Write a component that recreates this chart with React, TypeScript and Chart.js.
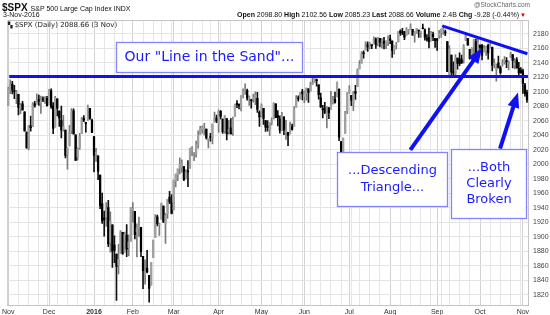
import React, { useEffect, useRef } from 'react';
import { Chart, registerables } from 'chart.js';
Chart.register(...registerables);

// ---- categories (trading days) ----
const monthNames = ['Nov', 'Dec', '2016', 'Feb', 'Mar', 'Apr', 'May', 'Jun', 'Jul', 'Aug', 'Sep', 'Oct', 'Nov'];
const monthYears = [2015, 2015, 2016, 2016, 2016, 2016, 2016, 2016, 2016, 2016, 2016, 2016, 2016];
const monthNums = [10, 11, 0, 1, 2, 3, 4, 5, 6, 7, 8, 9, 10];
const monthDays = [
  [2, 3, 4, 5, 6, 9, 10, 11, 12, 13, 16, 17, 18, 19, 20, 23, 24, 25, 27, 30],
  [1, 2, 3, 4, 7, 8, 9, 10, 11, 14, 15, 16, 17, 18, 21, 22, 23, 24, 28, 29, 30, 31],
  [4, 5, 6, 7, 8, 11, 12, 13, 14, 15, 19, 20, 21, 22, 25, 26, 27, 28, 29],
  [1, 2, 3, 4, 5, 8, 9, 10, 11, 12, 16, 17, 18, 19, 22, 23, 24, 25, 26, 29],
  [1, 2, 3, 4, 7, 8, 9, 10, 11, 14, 15, 16, 17, 18, 21, 22, 23, 24, 28, 29, 30, 31],
  [1, 4, 5, 6, 7, 8, 11, 12, 13, 14, 15, 18, 19, 20, 21, 22, 25, 26, 27, 28, 29],
  [2, 3, 4, 5, 6, 9, 10, 11, 12, 13, 16, 17, 18, 19, 20, 23, 24, 25, 26, 27, 31],
  [1, 2, 3, 6, 7, 8, 9, 10, 13, 14, 15, 16, 17, 20, 21, 22, 23, 24, 27, 28, 29, 30],
  [1, 5, 6, 7, 8, 11, 12, 13, 14, 15, 18, 19, 20, 21, 22, 25, 26, 27, 28, 29],
  [1, 2, 3, 4, 5, 8, 9, 10, 11, 12, 15, 16, 17, 18, 19, 22, 23, 24, 25, 26, 29, 30, 31],
  [1, 2, 6, 7, 8, 9, 12, 13, 14, 15, 16, 19, 20, 21, 22, 23, 26, 27, 28, 29, 30],
  [3, 4, 5, 6, 7, 10, 11, 12, 13, 14, 17, 18, 19, 20, 21, 24, 25, 26, 27, 28, 31],
  [1, 2, 3],
];

// ---- OHLC series ----
const opens = [
  2080.76, 2102.63, 2110.60, 2101.68, 2098.60, 2096.56, 2077.19, 2083.41, 2072.29, 2044.64, 2022.08, 2053.67, 2051.99, 2083.70, 2082.82, 2089.41, 2084.42, 2089.30, 2088.82, 2090.95,
  2082.93, 2101.71, 2080.71, 2051.24, 2090.42, 2073.39, 2061.17, 2047.93, 2047.27, 2013.37, 2025.55, 2046.50, 2073.76, 2040.81, 2010.27, 2023.15, 2042.20, 2063.52, 2057.77, 2060.54, 2077.34, 2060.59,
  2038.20, 2013.78, 2011.71, 1985.32, 1945.97, 1926.12, 1927.83, 1940.34, 1891.68, 1916.68, 1888.66, 1876.18, 1861.46, 1877.40, 1906.28, 1878.79, 1902.52, 1885.22, 1894.00,
  1936.94, 1935.26, 1907.07, 1911.67, 1913.07, 1873.25, 1848.46, 1857.10, 1847.00, 1833.40, 1871.44, 1898.80, 1927.57, 1916.74, 1924.44, 1942.38, 1917.56, 1931.87, 1954.95, 1947.13,
  1937.09, 1976.60, 1985.60, 1994.01, 1996.11, 1996.88, 1981.44, 1990.97, 1994.71, 2019.27, 2015.27, 2014.24, 2026.90, 2041.16, 2047.88, 2048.64, 2048.55, 2032.48, 2037.89, 2035.75, 2058.27, 2063.77,
  2056.62, 2073.19, 2062.50, 2045.56, 2063.01, 2045.54, 2050.23, 2043.72, 2065.92, 2082.89, 2083.10, 2078.83, 2096.05, 2101.52, 2102.09, 2091.49, 2089.37, 2089.84, 2092.33, 2090.93, 2071.82,
  2067.17, 2077.18, 2060.30, 2052.95, 2047.77, 2057.55, 2062.63, 2083.29, 2067.17, 2062.50, 2046.53, 2065.04, 2044.38, 2044.21, 2041.88, 2052.23, 2052.65, 2078.93, 2091.44, 2090.06, 2100.13,
  2093.94, 2097.71, 2104.07, 2100.83, 2110.18, 2112.71, 2115.65, 2109.57, 2091.75, 2076.65, 2077.60, 2066.36, 2078.20, 2075.58, 2085.19, 2089.75, 2092.80, 2103.81, 2031.45, 2006.67, 2042.69, 2073.17,
  2099.34, 2095.05, 2084.43, 2100.42, 2106.97, 2131.72, 2139.50, 2153.81, 2157.88, 2165.13, 2162.04, 2163.79, 2166.10, 2172.91, 2166.47, 2173.71, 2168.97, 2169.81, 2166.05, 2168.83,
  2173.15, 2169.94, 2156.81, 2163.51, 2168.79, 2183.76, 2182.24, 2182.81, 2177.97, 2183.74, 2186.08, 2186.24, 2177.84, 2181.90, 2184.24, 2181.58, 2187.81, 2185.09, 2173.29, 2175.10, 2170.19, 2179.45, 2173.56,
  2171.33, 2177.49, 2181.61, 2185.17, 2182.76, 2169.08, 2120.86, 2150.47, 2127.86, 2125.36, 2146.48, 2143.99, 2145.94, 2144.58, 2170.94, 2173.29, 2158.54, 2146.04, 2161.85, 2168.90, 2156.51,
  2164.33, 2163.37, 2155.15, 2158.22, 2164.19, 2160.39, 2161.35, 2137.67, 2130.26, 2139.68, 2132.95, 2138.31, 2140.81, 2142.51, 2139.43, 2148.50, 2151.16, 2136.97, 2144.06, 2132.23, 2129.78,
  2128.68, 2109.43, 2098.80,
];
const highs = [
  2106.20, 2116.48, 2114.59, 2108.78, 2101.91, 2096.56, 2083.67, 2086.94, 2072.29, 2044.64, 2053.22, 2066.69, 2085.31, 2086.74, 2097.06, 2095.61, 2094.12, 2093.00, 2093.29, 2093.81,
  2103.37, 2104.27, 2085.00, 2093.84, 2090.42, 2073.85, 2080.33, 2067.65, 2047.27, 2022.92, 2053.87, 2076.72, 2076.37, 2040.81, 2022.90, 2042.74, 2064.73, 2067.36, 2057.77, 2081.56, 2077.34, 2062.54,
  2038.20, 2021.94, 2011.71, 1985.32, 1960.40, 1935.65, 1947.38, 1950.33, 1934.47, 1916.68, 1901.44, 1876.18, 1889.85, 1908.85, 1906.28, 1906.73, 1916.99, 1902.96, 1940.24,
  1947.20, 1935.26, 1918.01, 1927.35, 1913.07, 1873.25, 1868.25, 1881.60, 1847.00, 1864.78, 1895.77, 1930.68, 1930.00, 1918.78, 1946.70, 1942.38, 1932.08, 1951.83, 1962.96, 1958.27,
  1978.35, 1986.51, 1993.69, 2009.13, 2006.12, 1996.88, 1992.69, 2005.08, 2022.37, 2024.57, 2015.94, 2032.02, 2046.24, 2052.36, 2053.13, 2056.60, 2048.55, 2036.04, 2042.67, 2055.91, 2072.21, 2067.92,
  2075.07, 2074.02, 2062.50, 2067.33, 2063.01, 2060.63, 2062.93, 2065.05, 2083.18, 2087.84, 2083.22, 2094.66, 2104.05, 2111.05, 2103.78, 2094.32, 2089.37, 2096.87, 2099.89, 2099.30, 2073.85,
  2083.42, 2077.18, 2060.30, 2060.23, 2057.72, 2064.15, 2084.87, 2083.29, 2073.99, 2066.79, 2071.88, 2065.69, 2060.61, 2044.21, 2058.35, 2055.58, 2079.67, 2094.73, 2094.30, 2099.06, 2103.48,
  2100.97, 2105.26, 2104.07, 2113.36, 2119.22, 2120.55, 2117.64, 2109.57, 2098.12, 2081.30, 2085.65, 2079.62, 2078.20, 2100.66, 2093.66, 2099.71, 2113.32, 2103.81, 2031.45, 2036.09, 2073.13, 2098.94,
  2108.71, 2095.05, 2100.72, 2109.08, 2131.71, 2143.16, 2155.40, 2156.45, 2168.99, 2169.05, 2168.35, 2164.63, 2175.63, 2174.56, 2175.11, 2173.71, 2173.54, 2174.98, 2170.22, 2177.09,
  2178.29, 2170.20, 2163.79, 2168.19, 2182.87, 2185.44, 2187.66, 2183.41, 2188.45, 2186.28, 2193.81, 2186.24, 2183.08, 2187.03, 2185.00, 2183.35, 2193.42, 2186.66, 2179.00, 2187.94, 2183.48, 2182.27, 2173.79,
  2173.56, 2184.87, 2186.57, 2187.87, 2184.94, 2169.08, 2163.30, 2150.47, 2141.33, 2151.31, 2146.48, 2153.61, 2150.80, 2165.11, 2179.99, 2173.75, 2158.54, 2161.13, 2172.40, 2172.67, 2175.30,
  2164.41, 2165.46, 2163.95, 2162.93, 2165.86, 2169.60, 2161.56, 2145.36, 2138.19, 2149.19, 2135.61, 2144.38, 2148.44, 2147.18, 2142.63, 2154.79, 2151.16, 2145.73, 2147.13, 2140.72, 2133.25,
  2131.45, 2111.76, 2102.56,
];
const lows = [
  2080.76, 2097.51, 2096.98, 2090.41, 2083.74, 2068.24, 2069.91, 2074.85, 2045.66, 2022.02, 2019.94, 2045.90, 2051.99, 2078.76, 2082.82, 2081.39, 2070.29, 2086.30, 2084.13, 2080.41,
  2082.93, 2077.11, 2042.35, 2051.24, 2066.78, 2052.32, 2036.53, 2045.67, 2008.80, 1993.26, 2025.55, 2042.43, 2041.66, 2005.33, 2005.93, 2020.49, 2042.20, 2058.73, 2044.20, 2060.54, 2061.97, 2043.62,
  1989.68, 2004.17, 1979.05, 1938.83, 1918.46, 1901.10, 1914.35, 1886.41, 1878.93, 1857.83, 1864.60, 1812.29, 1848.98, 1877.40, 1875.97, 1878.79, 1872.70, 1873.65, 1894.00,
  1920.30, 1897.29, 1872.23, 1900.52, 1872.65, 1828.46, 1834.94, 1850.32, 1810.10, 1833.40, 1871.44, 1898.80, 1915.09, 1902.17, 1924.44, 1919.44, 1891.00, 1925.41, 1945.78, 1931.81,
  1937.09, 1968.80, 1977.37, 1986.77, 1989.38, 1977.43, 1979.84, 1969.25, 1994.71, 2012.05, 2005.23, 2010.04, 2022.16, 2041.16, 2043.14, 2040.57, 2034.86, 2022.49, 2031.96, 2028.31, 2058.27, 2057.46,
  2043.98, 2062.57, 2042.56, 2043.09, 2033.80, 2041.69, 2041.88, 2039.74, 2065.92, 2078.13, 2076.31, 2073.65, 2091.68, 2096.32, 2088.52, 2081.20, 2077.52, 2085.80, 2082.31, 2071.62, 2052.28,
  2066.11, 2054.89, 2045.55, 2045.77, 2039.45, 2054.31, 2062.63, 2064.46, 2053.13, 2043.13, 2046.53, 2040.82, 2034.49, 2025.91, 2041.88, 2047.26, 2052.65, 2078.93, 2087.08, 2090.06, 2088.66,
  2085.10, 2088.59, 2085.36, 2100.83, 2110.18, 2112.71, 2107.73, 2089.96, 2078.46, 2064.10, 2069.80, 2050.37, 2062.84, 2075.58, 2083.02, 2084.36, 2092.80, 2032.57, 1991.68, 2006.67, 2042.69, 2070.00,
  2097.90, 2080.86, 2074.02, 2089.39, 2106.97, 2131.72, 2139.50, 2146.21, 2157.88, 2155.79, 2159.07, 2159.40, 2166.10, 2159.75, 2163.24, 2161.95, 2160.18, 2159.07, 2159.58, 2163.49,
  2166.21, 2147.58, 2152.02, 2159.07, 2168.79, 2177.85, 2178.61, 2172.00, 2177.97, 2179.42, 2186.08, 2178.14, 2168.50, 2180.46, 2175.13, 2175.00, 2186.80, 2171.25, 2169.74, 2160.39, 2170.19, 2170.41, 2161.35,
  2157.09, 2173.59, 2175.10, 2179.07, 2177.49, 2127.81, 2119.12, 2120.27, 2119.90, 2122.36, 2131.20, 2135.91, 2139.17, 2139.57, 2170.94, 2163.97, 2145.04, 2141.55, 2151.79, 2145.20, 2156.51,
  2154.77, 2144.01, 2155.15, 2150.28, 2144.85, 2160.39, 2128.84, 2132.77, 2114.72, 2132.98, 2124.43, 2135.49, 2138.15, 2133.44, 2130.09, 2146.91, 2132.94, 2131.59, 2132.52, 2119.36, 2125.53,
  2097.85, 2094.00, 2085.23,
];
const closes = [
  2104.05, 2109.79, 2102.31, 2099.93, 2099.20, 2078.58, 2081.72, 2075.00, 2045.97, 2023.04, 2053.19, 2050.44, 2083.58, 2081.24, 2089.17, 2086.59, 2089.14, 2088.87, 2090.11, 2080.41,
  2102.63, 2079.51, 2049.62, 2091.69, 2077.07, 2063.59, 2047.62, 2052.23, 2012.37, 2021.94, 2043.41, 2073.07, 2041.89, 2005.55, 2021.15, 2038.97, 2064.29, 2060.99, 2056.50, 2078.36, 2063.36, 2043.94,
  2012.66, 2016.71, 1990.26, 1943.09, 1922.03, 1923.67, 1938.68, 1890.28, 1921.84, 1880.33, 1881.33, 1859.33, 1868.99, 1906.90, 1877.08, 1903.63, 1882.95, 1893.36, 1940.24,
  1939.38, 1903.03, 1912.53, 1915.45, 1880.05, 1853.44, 1852.21, 1851.86, 1829.08, 1864.78, 1895.58, 1926.82, 1917.83, 1917.78, 1945.50, 1921.27, 1929.80, 1951.70, 1948.05, 1932.23,
  1978.35, 1986.45, 1993.40, 1999.99, 2001.76, 1979.26, 1989.26, 1989.57, 2022.19, 2019.64, 2015.93, 2027.22, 2040.59, 2049.58, 2051.60, 2049.80, 2036.71, 2035.94, 2037.05, 2055.01, 2063.95, 2059.74,
  2072.78, 2066.13, 2045.17, 2066.66, 2041.91, 2047.60, 2041.99, 2061.72, 2082.42, 2082.78, 2080.73, 2094.34, 2100.80, 2102.40, 2091.48, 2091.58, 2087.79, 2091.70, 2095.15, 2075.81, 2065.30,
  2081.43, 2063.37, 2051.12, 2050.63, 2057.14, 2058.69, 2084.39, 2064.46, 2064.11, 2046.61, 2066.66, 2047.21, 2047.63, 2040.04, 2052.32, 2048.04, 2076.06, 2090.54, 2090.10, 2099.06, 2096.95,
  2099.33, 2105.26, 2099.13, 2109.41, 2112.13, 2119.12, 2115.48, 2096.07, 2079.06, 2075.32, 2071.50, 2077.99, 2071.22, 2083.25, 2088.90, 2085.45, 2113.32, 2037.41, 2000.54, 2036.09, 2070.77, 2098.86,
  2102.95, 2088.55, 2099.73, 2097.90, 2129.90, 2137.16, 2152.14, 2152.43, 2163.75, 2161.74, 2166.89, 2163.78, 2173.02, 2165.17, 2175.03, 2168.48, 2169.18, 2166.58, 2170.06, 2173.60,
  2170.84, 2157.03, 2163.79, 2164.25, 2182.87, 2180.89, 2181.74, 2175.49, 2185.79, 2184.05, 2190.15, 2178.15, 2182.22, 2187.02, 2183.87, 2182.64, 2186.90, 2175.44, 2172.47, 2169.04, 2180.38, 2176.12, 2170.95,
  2170.86, 2179.98, 2186.48, 2186.16, 2181.30, 2127.81, 2159.04, 2127.02, 2125.77, 2147.26, 2139.16, 2139.12, 2139.76, 2163.12, 2177.18, 2164.69, 2146.10, 2159.93, 2171.37, 2151.13, 2168.27,
  2161.20, 2150.49, 2159.73, 2160.77, 2153.74, 2163.66, 2136.73, 2139.18, 2132.55, 2132.98, 2126.50, 2139.60, 2144.29, 2141.34, 2141.16, 2151.33, 2143.16, 2139.43, 2133.04, 2126.41, 2126.15,
  2111.72, 2097.94, 2088.66,
];

// ---- y axis ----
const yMin = 1805;
const yMax = 2199;
const yStep = 20;

// ---- annotations (x = bar index, y = price) ----
const sandLevel = 2121;
const trendLine = [[212.5, 2191], [254.2, 2152.5]];
const arrows = [
  [[196.9, 2020], [232.0, 2160]],
  [[240.8, 2021.7], [249.6, 2099]],
];
const boxes = [
  { x0: 52.7, x1: 143.6, y0: 2169.0, y1: 2127.7, lines: ['Our "Line in the Sand"...'], size: 14, lh: 17 },
  { x0: 161.2, x1: 214.9, y0: 2017.6, y1: 1941.9, lines: ['...Descending', 'Triangle...'], size: 13, lh: 17 },
  { x0: 216.9, x1: 253.5, y0: 2021.7, y1: 1926.7, lines: ['...Both', 'Clearly', 'Broken'], size: 13, lh: 16 },
];

const BLUE = '#1010f5';
const TEXT_BLUE = '#1a1aff';
const BOX_BORDER = '#8484ff';

export default function App() {
  const canvasRef = useRef<HTMLCanvasElement | null>(null);

  useEffect(() => {
    const labels: string[] = [];
    const tickLabels: string[] = [];
    const monthStart: boolean[] = [];
    const weekStart: boolean[] = [];
    let prevDow = 99;
    monthDays.forEach((days, m) => {
      days.forEach((d, k) => {
        const dow = new Date(monthYears[m], monthNums[m], d).getDay();
        labels.push(`${d}-${monthNames[m]}`);
        tickLabels.push(k === 0 ? monthNames[m] : '');
        monthStart.push(k === 0);
        weekStart.push(dow <= prevDow);
        prevDow = dow;
      });
    });

    const up = opens.map((o, i) => closes[i] >= o);

    const framePlugin = {
      id: 'frame',
      beforeDatasetsDraw(chart: any) {
        const { ctx, chartArea } = chart;
        ctx.save();
        ctx.strokeStyle = '#c4c4c4';
        ctx.lineWidth = 1;
        ctx.beginPath();
        ctx.moveTo(chartArea.left + 0.5, chartArea.bottom);
        ctx.lineTo(chartArea.left + 0.5, chartArea.top + 0.5);
        ctx.lineTo(chartArea.right, chartArea.top + 0.5);
        ctx.stroke();
        ctx.restore();
      },
    };

    const annotationPlugin = {
      id: 'annotations',
      afterDatasetsDraw(chart: any) {
        const { ctx, chartArea } = chart;
        const xs = chart.scales.x;
        const ys = chart.scales.y;
        const px = (i: number) => xs.getPixelForValue(i);
        const py = (v: number) => ys.getPixelForValue(v);
        ctx.save();
        ctx.lineCap = 'butt';
        ctx.strokeStyle = BLUE;
        ctx.lineWidth = 3;
        ctx.beginPath();
        ctx.moveTo(chartArea.left + 2, py(sandLevel));
        ctx.lineTo(chartArea.right, py(sandLevel));
        ctx.stroke();
        ctx.beginPath();
        ctx.moveTo(px(trendLine[0][0]), py(trendLine[0][1]));
        ctx.lineTo(px(trendLine[1][0]), py(trendLine[1][1]));
        ctx.stroke();
        arrows.forEach(([tail, tip]) => {
          const x0 = px(tail[0]);
          const y0 = py(tail[1]);
          const x1 = px(tip[0]);
          const y1 = py(tip[1]);
          const dx = x1 - x0;
          const dy = y1 - y0;
          const len = Math.hypot(dx, dy);
          const ux = dx / len;
          const uy = dy / len;
          const head = 15;
          const half = 6;
          ctx.strokeStyle = BLUE;
          ctx.lineWidth = 4;
          ctx.beginPath();
          ctx.moveTo(x0, y0);
          ctx.lineTo(x1 - ux * head * 0.8, y1 - uy * head * 0.8);
          ctx.stroke();
          ctx.fillStyle = BLUE;
          ctx.beginPath();
          ctx.moveTo(x1, y1);
          ctx.lineTo(x1 - ux * head - uy * half, y1 - uy * head + ux * half);
          ctx.lineTo(x1 - ux * head + uy * half, y1 - uy * head - ux * half);
          ctx.closePath();
          ctx.fill();
        });
        boxes.forEach((b) => {
          const l = Math.round(px(b.x0)) + 0.5;
          const r = Math.round(px(b.x1)) + 0.5;
          const t = Math.round(py(b.y0)) + 0.5;
          const btm = Math.round(py(b.y1)) + 0.5;
          ctx.fillStyle = '#ffffff';
          ctx.fillRect(l, t, r - l, btm - t);
          ctx.strokeStyle = BOX_BORDER;
          ctx.lineWidth = 1.3;
          ctx.strokeRect(l, t, r - l, btm - t);
          ctx.fillStyle = TEXT_BLUE;
          ctx.font = `${b.size}px "DejaVu Sans", Verdana, sans-serif`;
          ctx.textAlign = 'center';
          ctx.textBaseline = 'middle';
          const cx = (l + r) / 2;
          const cy = (t + btm) / 2;
          const n = b.lines.length;
          b.lines.forEach((line, i) => {
            ctx.fillText(line, cx, cy + (i - (n - 1) / 2) * b.lh);
          });
        });
        ctx.restore();
      },
    };

    const chart = new Chart(canvasRef.current as HTMLCanvasElement, {
      type: 'bar',
      data: {
        labels,
        datasets: [
          {
            label: 'wick',
            data: lows.map((l, i) => [l, highs[i]]) as any,
            backgroundColor: up.map((u) => (u ? '#7a7a7a' : '#111111')),
            barThickness: 1,
            grouped: false,
            order: 2,
          } as any,
          {
            label: 'body',
            data: opens.map((o, i) => [o, closes[i]]) as any,
            backgroundColor: up.map((u) => (u ? '#a0a0a0' : '#000000')),
            barThickness: 1.6,
            grouped: false,
            minBarLength: 1,
            order: 1,
          } as any,
        ],
      },
      options: {
        responsive: false,
        animation: false,
        events: [],
        layout: { padding: { left: 6, top: 20, right: 0, bottom: 0 } },
        plugins: { legend: { display: false }, tooltip: { enabled: false }, title: { display: false } },
        scales: {
          x: {
            type: 'category',
            offset: true,
            grid: {
              offset: false,
              drawTicks: false,
              lineWidth: 1,
              color: (c: any) => {
                const i = c.index;
                if (monthStart[i]) return '#d2d2d2';
                if (weekStart[i]) return '#e6e6e6';
                return 'rgba(0,0,0,0)';
              },
            },
            border: { color: '#c4c4c4' },
            ticks: {
              autoSkip: false,
              maxRotation: 0,
              minRotation: 0,
              padding: 2,
              color: '#333',
              font: (c: any) => ({
                family: '"Liberation Sans", Arial, sans-serif',
                size: 7,
                weight: c.tick && c.tick.label === '2016' ? 'bold' : 'normal',
              }),
              callback: (_v: any, i: number) => tickLabels[i],
            },
            afterFit: (s: any) => {
              s.height = 9;
            },
          },
          y: {
            type: 'linear',
            position: 'right',
            min: yMin,
            max: yMax,
            grid: { drawTicks: false, color: '#e4e4e4', lineWidth: 1 },
            border: { color: '#c4c4c4' },
            ticks: {
              stepSize: yStep,
              includeBounds: false,
              maxTicksLimit: 100,
              padding: 5,
              color: '#444',
              font: { family: '"Liberation Sans", Arial, sans-serif', size: 7 },
              callback: (v: any) => String(v),
            },
            afterFit: (s: any) => {
              s.width = 22;
            },
          },
        },
      } as any,
      plugins: [framePlugin, annotationPlugin],
    });
    return () => chart.destroy();
  }, []);

  const sans = '"Liberation Sans", Arial, sans-serif';
  return (
    <div style={{ position: 'absolute', left: 0, top: 0, width: 550, height: 315, background: '#fff', overflow: 'hidden', fontFamily: sans, color: '#111' }}>
      <canvas ref={canvasRef} width={550} height={315} style={{ position: 'absolute', left: 0, top: 0 }} />
      <div style={{ position: 'absolute', left: 2, top: 0, whiteSpace: 'nowrap', lineHeight: '11px' }}>
        <span style={{ fontSize: 10, fontWeight: 'bold' }}>$SPX</span>
        <span style={{ fontSize: 7, marginLeft: 3 }}>S&amp;P 500 Large Cap Index INDX</span>
      </div>
      <div style={{ position: 'absolute', left: 3, top: 11, fontSize: 7, lineHeight: '8px', whiteSpace: 'nowrap' }}>3-Nov-2016</div>
      <div style={{ position: 'absolute', right: 20, top: 1, fontSize: 6.5, lineHeight: '8px', color: '#666', whiteSpace: 'nowrap' }}>@StockCharts.com</div>
      <div style={{ position: 'absolute', right: 24, top: 11, fontSize: 7, lineHeight: '8px', whiteSpace: 'nowrap' }}>
        <b>Open</b> 2098.80 <b>High</b> 2102.56 <b>Low</b> 2085.23 <b>Last</b> 2088.66 <b>Volume</b> 2.4B <b>Chg</b> -9.28 (-0.44%)
        <span style={{ color: '#e00000', fontSize: 6, marginLeft: 1 }}>▼</span>
      </div>
      <div style={{ position: 'absolute', left: 8, top: 21, fontSize: 7, lineHeight: '8px', whiteSpace: 'nowrap', fontFamily: '"DejaVu Sans", Verdana, sans-serif', color: '#222' }}>
        <span style={{ fontSize: 6, marginRight: 2 }}>▚</span>$SPX (Daily) 2088.66 (3 Nov)
      </div>
    </div>
  );
}
